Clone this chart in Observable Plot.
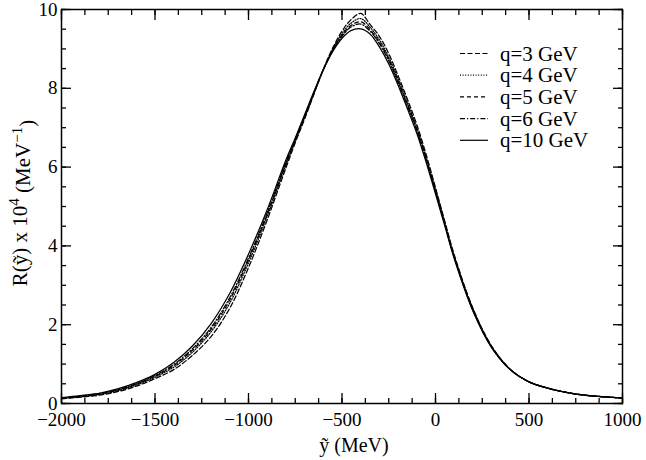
<!DOCTYPE html>
<html><head><meta charset="utf-8">
<script src="https://cdn.jsdelivr.net/npm/d3@7"></script>
<script src="https://cdn.jsdelivr.net/npm/@observablehq/plot@0.6"></script>
<style>
body{margin:0;background:#fff;}
#chart svg{display:block;}
</style>
</head><body><div id="chart"></div>
<script>
// ỹ (MeV) sample positions
const xs = [-2000,-1900,-1800,-1700,-1600,-1500,-1400,-1300,-1200,-1100,-1000,-900,
  -800,-750,-700,-650,-600,-550,-500,-450,-400,-350,-300,-250,-200,-150,-100,-50,0,50,100,
  200,300,400,500,600,700,800,900,1000];
// R(ỹ) x 10^4 for each q
const q3  = [0.12,0.16,0.21,0.30,0.44,0.63,0.86,1.22,1.70,2.42,3.45,4.66,
  5.98,6.62,7.22,7.85,8.48,9.02,9.45,9.75,9.90,9.62,9.32,8.88,8.32,7.72,7.08,6.32,5.48,4.62,3.78,
  2.42,1.46,0.87,0.55,0.39,0.28,0.21,0.17,0.14];
const q4  = [0.13,0.17,0.23,0.32,0.47,0.67,0.92,1.30,1.82,2.55,3.57,4.75,
  6.05,6.66,7.26,7.87,8.47,8.99,9.39,9.66,9.77,9.55,9.23,8.79,8.24,7.64,7.00,6.25,5.42,4.58,3.74,
  2.40,1.45,0.86,0.55,0.39,0.28,0.21,0.17,0.14];
const q5  = [0.14,0.18,0.24,0.34,0.49,0.69,0.96,1.35,1.88,2.63,3.64,4.80,
  6.09,6.69,7.28,7.89,8.47,8.97,9.35,9.60,9.69,9.49,9.17,8.74,8.19,7.59,6.96,6.21,5.39,4.55,3.72,
  2.38,1.44,0.86,0.55,0.39,0.28,0.21,0.17,0.14];
const q6  = [0.14,0.19,0.25,0.35,0.50,0.71,0.99,1.39,1.93,2.69,3.69,4.84,
  6.12,6.70,7.30,7.90,8.47,8.96,9.32,9.56,9.63,9.45,9.13,8.70,8.15,7.55,6.93,6.18,5.37,4.54,3.71,
  2.37,1.43,0.86,0.55,0.39,0.28,0.21,0.17,0.14];
const q10 = [0.15,0.20,0.26,0.37,0.53,0.74,1.04,1.46,2.03,2.80,3.79,4.92,
  6.18,6.74,7.33,7.92,8.47,8.93,9.27,9.47,9.51,9.38,9.05,8.62,8.08,7.48,6.86,6.12,5.32,4.50,3.68,
  2.35,1.42,0.86,0.55,0.39,0.28,0.21,0.17,0.14];

const seriesNames = ["q=3 GeV","q=4 GeV","q=5 GeV","q=6 GeV","q=10 GeV"];
const seriesValues = [q3,q4,q5,q6,q10];
const dashes = ["5,2.5","1,1.6","4,3","5,2,1.2,2",null];

const xMajor = [-2000,-1500,-1000,-500,0,500,1000];
const yMajor = [0,2,4,6,8,10];
const xMinor = d3.range(-2000, 1001, 125);
const yMinor = d3.range(0, 10.01, 0.5);

const fmt = d => (d < 0 ? "\u2212" : "") + Math.abs(d);

const lines = seriesValues.map((vals, k) =>
  Plot.line(xs.map((x, i) => ({x, y: vals[i]})), {
    x: "x", y: "y", stroke: "black", strokeWidth: 1.25,
    strokeDasharray: dashes[k] || undefined, curve: "catmull-rom"
  })
);

const tickOpts = {stroke: "black", strokeWidth: 1.3, label: null};

const chart = Plot.plot({
  width: 646, height: 460,
  marginLeft: 61, marginRight: 24, marginTop: 9, marginBottom: 57,
  style: {fontFamily: "'Liberation Serif', 'Times New Roman', serif", fontSize: "19px", background: "#fff", color: "black"},
  x: {domain: [-2000, 1000], axis: null, label: null},
  y: {domain: [0, 10], axis: null, label: null},
  marks: [
    ...lines,
    Plot.frame({stroke: "black", strokeWidth: 1.5}),
    Plot.axisX({...tickOpts, anchor: "bottom", ticks: xMajor, tickSize: -10, tickPadding: 19, tickFormat: fmt, fontSize: 19}),
    Plot.axisX({...tickOpts, anchor: "bottom", ticks: xMinor, tickSize: -5, tickFormat: () => ""}),
    Plot.axisX({...tickOpts, anchor: "top", ticks: xMajor, tickSize: -10, tickFormat: () => ""}),
    Plot.axisX({...tickOpts, anchor: "top", ticks: xMinor, tickSize: -5, tickFormat: () => ""}),
    Plot.axisY({...tickOpts, anchor: "left", ticks: yMajor, tickSize: -10, tickPadding: 14, tickFormat: fmt, fontSize: 19}),
    Plot.axisY({...tickOpts, anchor: "left", ticks: yMinor, tickSize: -5, tickFormat: () => ""}),
    Plot.axisY({...tickOpts, anchor: "right", ticks: yMajor, tickSize: -10, tickFormat: () => ""}),
    Plot.axisY({...tickOpts, anchor: "right", ticks: yMinor, tickSize: -5, tickFormat: () => ""})
  ]
});
document.getElementById("chart").appendChild(chart);

const svg = d3.select(chart);
const ff = "'Liberation Serif', 'Times New Roman', serif";

// legend
const lg = svg.append("g").attr("font-family", ff).attr("font-size", 21).attr("text-anchor", "start");
seriesNames.forEach((name, i) => {
  const cy = 53.5 + i * 21.7;
  const ln = lg.append("line").attr("x1", 460).attr("x2", 488).attr("y1", cy).attr("y2", cy)
    .attr("stroke", "black").attr("stroke-width", 1.2);
  if (dashes[i]) ln.attr("stroke-dasharray", dashes[i]);
  lg.append("text").attr("x", 500).attr("y", cy).attr("dy", "0.34em").attr("fill", "black")
    .attr("text-anchor", "start").text(name);
});

// x axis label
svg.append("text").attr("x", 354).attr("y", 452).attr("text-anchor", "middle")
  .attr("font-family", ff).attr("font-size", 20).attr("fill", "black").text("ỹ (MeV)");

// y axis label
const yl = svg.append("text").attr("transform", "translate(27,203) rotate(-90)")
  .attr("text-anchor", "middle").attr("font-family", ff).attr("font-size", 21).attr("fill", "black");
yl.append("tspan").text("R(ỹ) x 10");
yl.append("tspan").attr("font-size", 15).attr("dy", "-0.55em").text("4");
yl.append("tspan").attr("dy", "0.55em").text(" (MeV");
yl.append("tspan").attr("font-size", 15).attr("dy", "-0.55em").text("\u22121");
yl.append("tspan").attr("dy", "0.55em").text(")");
</script>
</body></html>
